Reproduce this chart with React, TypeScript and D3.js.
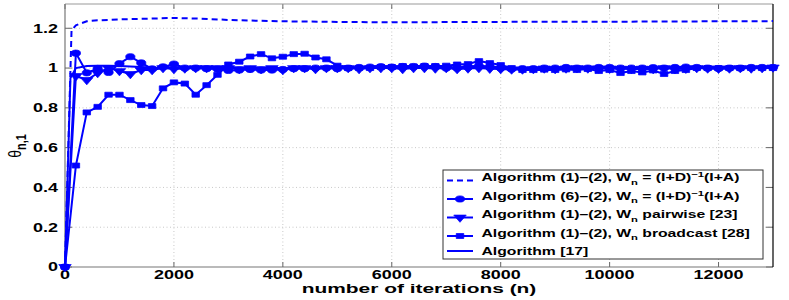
import React, { useEffect, useRef } from "react";
import * as d3 from "d3";

// taille de la figure et marges de la zone de tracé
const width = 789;
const height = 300;
const margin = { left: 65, right: 16, top: 4, bottom: 33 };
const sx = 1.5; // l'image d'origine est étirée horizontalement

// itérations où les marqueurs sont tracés
const iterations = d3.range(0, 13001, 200);

const xTicks = [0, 2000, 4000, 6000, 8000, 10000, 12000];
const yTicks = [0, 0.2, 0.4, 0.6, 0.8, 1, 1.2];
const yTickLabels = ["0", "0.2", "0.4", "0.6", "0.8", "1", "1.2"];

// Algorithme (1)-(2), W_n = (I+D)^-1 (I+A) : tirets, sans marqueurs
const dashedIter = [0, 120, 200, 400, 600, 800, 1000, 1500, 2000, 2500, 3000, 3500, 4000, 5000, 6000, 7000, 8000, 9000, 10000, 11000, 12000, 13000];
const dashedVals = [0, 1.19, 1.215, 1.235, 1.24, 1.242, 1.245, 1.248, 1.252, 1.248, 1.242, 1.238, 1.235, 1.232, 1.23, 1.231, 1.232, 1.233, 1.233, 1.234, 1.235, 1.236];

// Algorithme [17] : trait plein, sans marqueurs
const plainIter = [0, 100, 200, 400, 600, 800, 1000, 1200, 1400, 1600, 2000, 3000, 4000, 5000, 6000, 7000, 8000, 9000, 10000, 11000, 12000, 13000];
const plainVals = [0, 0.95, 1.0, 1.01, 1.012, 1.012, 1.01, 1.008, 1.005, 1.003, 1.002, 1.0, 1.0, 1.0, 1.0, 1.0, 1.0, 1.0, 1.0, 1.0, 1.0, 1.0];

// Algorithme (6)-(2) : cercles
const circleVals = [
  0, 1.075, 0.976, 0.998, 0.978, 1.022, 1.057, 1.026, 0.996, 1.006, 1.02,
  1.0, 1.0, 0.997, 0.995, 0.988, 0.99, 0.993, 0.99, 0.99, 0.993,
  0.997, 0.997, 1.0, 1.0, 0.997, 1.0, 1.003, 1.005, 1.007, 1.005,
  1.008, 1.008, 1.01, 1.008, 1.0, 1.0, 1.005, 1.01, 1.005, 1.0,
  0.995, 0.997, 0.997, 1.0, 1.0, 1.003, 1.0, 1.0, 1.003, 1.003,
  1.0, 1.0, 1.0, 1.002, 1.0, 1.003, 1.005, 1.003, 1.0, 0.998,
  1.0, 1.0, 1.003, 1.003, 1.003,
];

// Algorithme (1)-(2), W_n pairwise : triangles
const triangleVals = [
  0, 0.96, 0.94, 0.975, 1.0, 0.985, 0.97, 0.99, 0.99, 1.0, 0.995,
  0.998, 1.0, 1.0, 1.0, 1.0, 0.995, 1.0, 0.995, 1.0, 0.99,
  1.0, 1.0, 0.995, 1.0, 1.0, 1.0, 0.995, 1.0, 1.0, 1.0,
  0.995, 1.0, 1.0, 0.998, 1.0, 0.995, 0.998, 1.0, 0.997, 0.995,
  0.993, 0.993, 0.995, 0.998, 0.995, 0.998, 1.0, 0.998, 0.998, 0.997,
  0.997, 0.995, 0.997, 0.995, 1.0, 0.995, 0.997, 1.0, 0.998, 0.997,
  0.998, 1.0, 0.998, 1.0, 1.003,
];

// Algorithme (1)-(2), W_n broadcast : carrés
const squareVals = [
  0, 0.51, 0.777, 0.805, 0.866, 0.866, 0.839, 0.814, 0.809, 0.898, 0.928,
  0.922, 0.866, 0.914, 0.966, 1.018, 1.032, 1.058, 1.07, 1.049, 1.057,
  1.07, 1.072, 1.053, 1.044, 1.012, 1.0, 1.0, 1.0, 1.005, 1.005,
  1.01, 1.008, 1.01, 1.01, 1.012, 1.018, 1.02, 1.035, 1.025, 1.015,
  1.0, 0.99, 0.99, 0.992, 0.99, 0.993, 0.99, 0.995, 0.985, 0.99,
  0.975, 0.985, 0.978, 0.988, 0.97, 0.985, 0.99, 1.0, 1.0, 1.0,
  1.0, 1.0, 1.0, 1.0, 1.0,
];

// textes de la légende : [texte, "sub" | "sup" | ""]
const legendLabels = [
  [["Algorithm (1)–(2), W", ""], ["n", "sub"], [" = (I+D)", ""], ["−1", "sup"], ["(I+A)", ""]],
  [["Algorithm (6)–(2), W", ""], ["n", "sub"], [" = (I+D)", ""], ["−1", "sup"], ["(I+A)", ""]],
  [["Algorithm (1)–(2), W", ""], ["n", "sub"], [" pairwise [23]", ""]],
  [["Algorithm (1)–(2), W", ""], ["n", "sub"], [" broadcast [28]", ""]],
  [["Algorithm [17]", ""]],
];
const legendMarkers = ["none", "circle", "triangle", "square", "none"];

const blue = "#0000ff";
const font = "'Liberation Sans', Arial, Helvetica, sans-serif";

export default function App() {
  const ref = useRef<SVGSVGElement>(null);

  useEffect(() => {
    const svg = d3.select(ref.current);
    svg.selectAll("*").remove();

    const x = d3.scaleLinear().domain([0, 13000]).range([margin.left, width - margin.right]);
    const y = d3.scaleLinear().domain([0, 1.322]).range([height - margin.bottom, margin.top]);
    const x0 = x.range()[0], x1 = x.range()[1];
    const y0 = y.range()[0], y1 = y.range()[1];

    // texte étiré horizontalement
    const stretched = (g: any, px: number, py: number, size: number, anchor: string, k = sx) =>
      g
        .append("g")
        .attr("transform", `translate(${px},${py}) scale(${k},1)`)
        .append("text")
        .attr("font-family", font)
        .attr("font-weight", "bold")
        .attr("font-size", size)
        .attr("text-anchor", anchor)
        .attr("fill", "#000");

    // grille pointillée
    const grid = svg.append("g").attr("stroke", "#c8c8c8").attr("stroke-dasharray", "1,2.5");
    xTicks.slice(1).forEach((t) => {
      grid.append("line").attr("x1", x(t)).attr("x2", x(t)).attr("y1", y0).attr("y2", y1);
    });
    yTicks.slice(1).forEach((t) => {
      grid.append("line").attr("x1", x0).attr("x2", x1).attr("y1", y(t)).attr("y2", y(t));
    });

    // graduations vers l'intérieur
    const ticks = svg.append("g").attr("stroke", "#666").attr("stroke-width", 1);
    xTicks.forEach((t) => {
      ticks.append("line").attr("x1", x(t)).attr("x2", x(t)).attr("y1", y0).attr("y2", y0 - 5);
      ticks.append("line").attr("x1", x(t)).attr("x2", x(t)).attr("y1", y1).attr("y2", y1 + 5);
    });
    yTicks.forEach((t) => {
      ticks.append("line").attr("x1", x0).attr("x2", x0 + 7).attr("y1", y(t)).attr("y2", y(t));
      ticks.append("line").attr("x1", x1).attr("x2", x1 - 7).attr("y1", y(t)).attr("y2", y(t));
    });

    // cadre
    svg.append("line").attr("x1", x0).attr("x2", x1).attr("y1", y1).attr("y2", y1).attr("stroke", "#999");
    svg.append("line").attr("x1", x0).attr("x2", x0).attr("y1", y0).attr("y2", y1).attr("stroke", "#777").attr("stroke-width", 1.2);
    svg.append("line").attr("x1", x0).attr("x2", x1).attr("y1", y0).attr("y2", y0).attr("stroke", "#777").attr("stroke-width", 1.2);
    svg.append("line").attr("x1", x1).attr("x2", x1).attr("y1", y0).attr("y2", y1).attr("stroke", "#000").attr("stroke-width", 1.2);

    // étiquettes des axes
    xTicks.forEach((t) => stretched(svg, x(t), 279, 12, "middle").text(t));
    yTicks.forEach((t, i) => stretched(svg, 58, y(t) + 4.3, 12, "end").text(yTickLabels[i]));

    stretched(svg, (x0 + x1) / 2, 292.5, 13, "middle", 1.61).text("number of iterations (n)");

    const yl = svg
      .append("g")
      .attr("transform", `translate(21,146) scale(1.3,1) rotate(-90)`)
      .append("text")
      .attr("font-family", font)
      .attr("font-size", 14)
      .attr("text-anchor", "middle");
    yl.append("tspan").text("θ");
    yl.append("tspan").attr("font-size", 11).attr("font-weight", "bold").attr("dy", 4).text("n,1");

    // courbes
    const line = d3
      .line<[number, number]>()
      .x((d) => x(d[0]))
      .y((d) => y(d[1]));

    const curves = svg.append("g").attr("fill", "none").attr("stroke", blue).attr("stroke-width", 2);

    curves.append("path").attr("d", line(plainIter.map((n, i) => [n, plainVals[i]])));
    curves.append("path").attr("d", line(iterations.map((n, i) => [n, squareVals[i]])));
    curves.append("path").attr("d", line(iterations.map((n, i) => [n, triangleVals[i]])));
    curves.append("path").attr("d", line(iterations.map((n, i) => [n, circleVals[i]])));
    curves
      .append("path")
      .attr("stroke-dasharray", "6,4")
      .attr("d", line(dashedIter.map((n, i) => [n, dashedVals[i]])));

    // marqueurs
    const symbolPath = (kind: string) => {
      if (kind === "circle") return d3.symbol().type(d3.symbolCircle).size(30)();
      if (kind === "square") return d3.symbol().type(d3.symbolSquare).size(25)();
      return d3.symbol().type(d3.symbolTriangle).size(30)();
    };
    const drawMarker = (g: any, kind: string, px: number, py: number) =>
      g
        .append("path")
        .attr("d", symbolPath(kind))
        .attr(
          "transform",
          `translate(${px},${py}) scale(${sx},1)${kind === "triangle" ? " rotate(180)" : ""}`
        )
        .attr("fill", blue)
        .attr("stroke", blue)
        .attr("stroke-width", 0.6);

    const marks = svg.append("g");
    iterations.forEach((n, i) => drawMarker(marks, "square", x(n), y(squareVals[i])));
    iterations.forEach((n, i) => drawMarker(marks, "triangle", x(n), y(triangleVals[i])));
    iterations.forEach((n, i) => drawMarker(marks, "circle", x(n), y(circleVals[i])));

    // légende
    const legend = svg.append("g");
    legend
      .append("rect")
      .attr("x", 443)
      .attr("y", 170)
      .attr("width", 320)
      .attr("height", 89)
      .attr("fill", "#fff")
      .attr("stroke", "#333")
      .attr("stroke-width", 1);

    const rowY = [180.5, 199, 217.5, 236, 251];
    legendLabels.forEach((segs, i) => {
      const ly = rowY[i];
      legend
        .append("line")
        .attr("x1", 447)
        .attr("x2", 473)
        .attr("y1", ly)
        .attr("y2", ly)
        .attr("stroke", blue)
        .attr("stroke-width", 2)
        .attr("stroke-dasharray", i === 0 ? "6,4" : null);
      if (legendMarkers[i] !== "none") drawMarker(legend, legendMarkers[i], 460, ly);

      const txt = stretched(legend, 481.5, i === 4 ? ly + 4 : ly + 0.5, 10.5, "start");
      let shift = 0;
      segs.forEach(([s, kind]) => {
        const target = kind === "sub" ? 3.5 : kind === "sup" ? -4 : 0;
        const sp = txt.append("tspan").attr("dy", target - shift).text(s);
        if (kind) sp.attr("font-size", 7.5);
        shift = target;
      });
    });
  }, []);

  return (
    <svg
      ref={ref}
      width={width}
      height={height}
      style={{ position: "absolute", left: 0, top: 0, background: "#fff" }}
    />
  );
}
